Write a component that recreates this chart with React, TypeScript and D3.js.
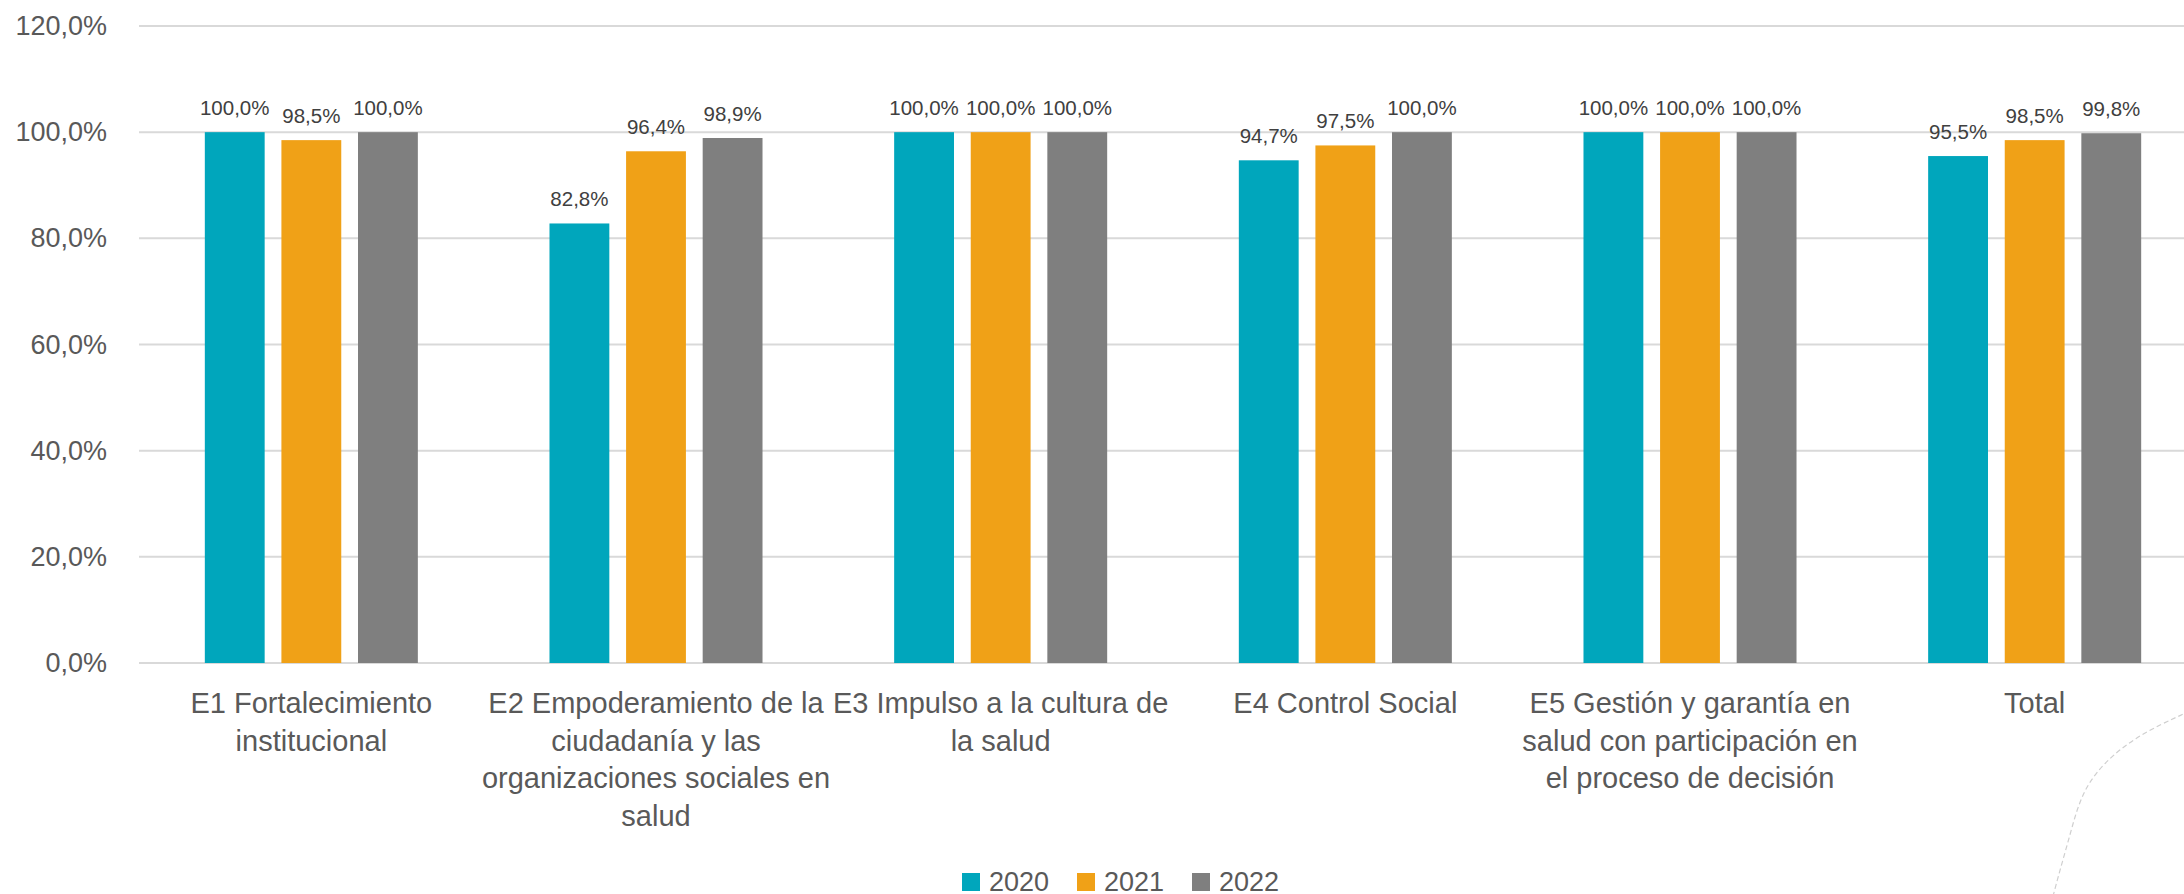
import * as d3 from 'd3'

// categories (wrapped label lines) and values per year, in percent
const categories = ['E1', 'E2', 'E3', 'E4', 'E5', 'Total']
const categoryLines = [
  ['E1 Fortalecimiento', 'institucional'],
  ['E2 Empoderamiento de la', 'ciudadanía y las', 'organizaciones sociales en', 'salud'],
  ['E3 Impulso a la cultura de', 'la salud'],
  ['E4 Control Social'],
  ['E5 Gestión y garantía en', 'salud con participación en', 'el proceso de decisión'],
  ['Total'],
]
const series = ['2020', '2021', '2022']
const values2020 = [100, 82.8, 100, 94.7, 100, 95.5]
const values2021 = [98.5, 96.4, 100, 97.5, 100, 98.5]
const values2022 = [100, 98.9, 100, 100, 100, 99.8]
const yTicks = [0, 20, 40, 60, 80, 100, 120]

const colors = ['#00A6BC', '#F0A117', '#7F7F7F']
const seriesValues = [values2020, values2021, values2022]

const width = 2184
const height = 894
const font = '"Liberation Sans", Arial, sans-serif'

const pct = (v: number) => d3.format('.1f')(v).replace('.', ',') + '%'

export default function App() {
  const x = d3.scaleBand<string>().domain(categories).range([139, 2207])
  const y = d3.scaleLinear().domain([0, 120]).range([663, 26])

  // excel-like: gap width 220%, overlap -28%
  const barW = x.bandwidth() / 5.76
  const groupW = barW * 3.56
  const xs = d3
    .scaleBand<string>()
    .domain(series)
    .range([-groupW / 2, groupW / 2])
    .paddingInner(0.28 / 1.28)

  // faint slide decoration at the bottom right
  const deco = d3.line().curve(d3.curveBasis)([
    [2190, 711],
    [2133, 737],
    [2093, 773],
    [2078, 805],
    [2070, 835],
    [2060, 870],
    [2052, 900],
  ])

  return (
    <div style={{ position: 'absolute', left: 0, top: 0 }}>
      <svg width={width} height={height} style={{ display: 'block', background: '#fff' }}>
        <path d={deco ?? ''} fill="none" stroke="#cfcfcf" strokeWidth={1.2} strokeDasharray="5 3" />

        <g>
          {yTicks.map((t) => (
            <g key={t}>
              <line x1={139} x2={width} y1={y(t)} y2={y(t)} stroke="#D9D9D9" strokeWidth={2} />
              <text
                x={107}
                y={y(t) + 9}
                textAnchor="end"
                fontFamily={font}
                fontSize={27}
                fill="#595959"
              >
                {pct(t)}
              </text>
            </g>
          ))}
        </g>

        <g>
          {categories.map((c, i) => {
            const cx = (x(c) ?? 0) + x.bandwidth() / 2
            return (
              <g key={c}>
                {series.map((s, j) => {
                  const v = seriesValues[j][i]
                  const bx = cx + (xs(s) ?? 0)
                  return (
                    <g key={s}>
                      <rect x={bx} y={y(v)} width={xs.bandwidth()} height={y(0) - y(v)} fill={colors[j]} />
                      <text
                        x={bx + xs.bandwidth() / 2}
                        y={y(v) - 17}
                        textAnchor="middle"
                        fontFamily={font}
                        fontSize={20.5}
                        fill="#404040"
                      >
                        {pct(v)}
                      </text>
                    </g>
                  )
                })}
                <text textAnchor="middle" fontFamily={font} fontSize={29} fill="#595959">
                  {categoryLines[i].map((line, k) => (
                    <tspan key={k} x={cx} y={713 + k * 37.5}>
                      {line}
                    </tspan>
                  ))}
                </text>
              </g>
            )
          })}
        </g>

        <g>
          {series.map((s, j) => (
            <g key={s} transform={`translate(${962 + j * 115},0)`}>
              <rect x={0} y={873} width={18} height={18} fill={colors[j]} />
              <text x={27} y={891} fontFamily={font} fontSize={27} fill="#595959">
                {s}
              </text>
            </g>
          ))}
        </g>
      </svg>
    </div>
  )
}
